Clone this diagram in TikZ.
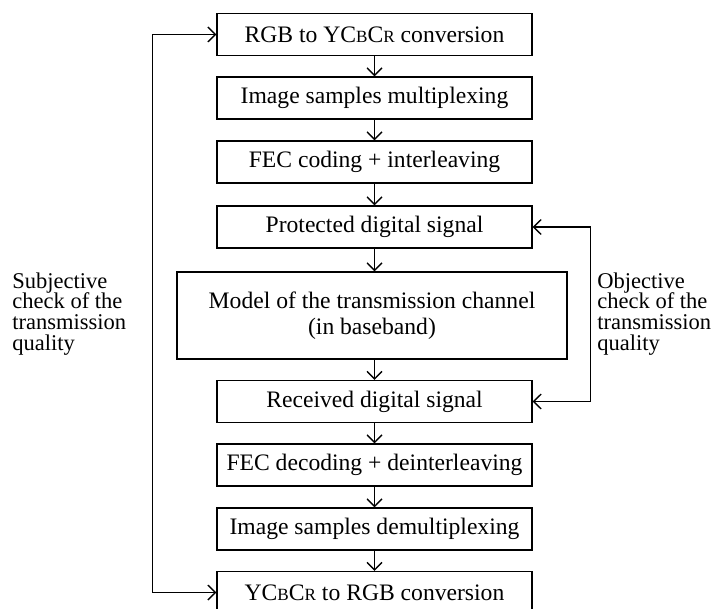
\documentclass[tikz,border=0pt]{standalone}
\usepackage{fontspec}
\setmainfont{Liberation Serif}
\usetikzlibrary{arrows.meta, positioning}
\newcommand{\smc}[1]{{\fontsize{8.6}{10}\selectfont #1}}
\newcommand{\ycc}{YC\smc{B}C\smc{R}}

\begin{document}
\begin{tikzpicture}[x=0.5bp, y=-0.5bp,
    block/.style={rectangle, draw, line width=0.65pt, minimum width=157.5bp,
                  minimum height=21bp, inner sep=0pt, align=center,
                  font=\fontsize{11.85}{13}\selectfont},
    bigblock/.style={block, minimum width=195bp, minimum height=43.5bp},
    note/.style={align=left, inner sep=0pt, font=\fontsize{11.3}{10.5}\selectfont},
    link/.style={-{Straight Barb[length=3.8bp, width=7.5bp]}, line width=0.65pt},
    loop/.style={{Straight Barb[length=3.8bp, width=7.5bp]}-{Straight Barb[length=3.8bp, width=7.5bp]}, line width=0.65pt}
]
\useasboundingbox (0,0) rectangle (711,609);

% Chain of blocks
\node[block] (rgb)  at (374.5,34.5) {RGB to \ycc{} conversion};
\node[block] (mux)  at (374.5,98)   {Image samples multiplexing};
\node[block] (fec)  at (374.5,162)  {FEC coding + interleaving};
\node[block] (prot) at (374.5,227)  {Protected digital signal};
\node[bigblock] (chan) at (372,315.5) {Model of the transmission channel\\(in baseband)};
\node[block] (recv) at (374.5,401.5) {Received digital signal};
\node[block] (dec)  at (374.5,465)  {FEC decoding + deinterleaving};
\node[block] (dmux) at (374.5,529)  {Image samples demultiplexing};
\node[block, minimum height=21bp] (yrgb) at (374.5,592.5) {\ycc{} to RGB conversion};

% Side notes
\node[note, anchor=west] (subj) at (12,314) {Subjective\\check of the\\transmission\\quality};
\node[note, anchor=west] (obj)  at (597,314) {Objective\\check of the\\transmission\\quality};

% Connections
\foreach \a/\b in {rgb/mux, mux/fec, fec/prot, prot/chan, chan/recv, recv/dec, dec/dmux, dmux/yrgb}
    \draw[link] (\a.south -| rgb.south) -- (\b.north -| rgb.south);

% Check loops
\draw[loop] (rgb.west) -- ++(-64,0) |- (yrgb.west);
\draw[loop] (prot.east) -- ++(58,0) |- (recv.east);

\end{tikzpicture}
\end{document}
